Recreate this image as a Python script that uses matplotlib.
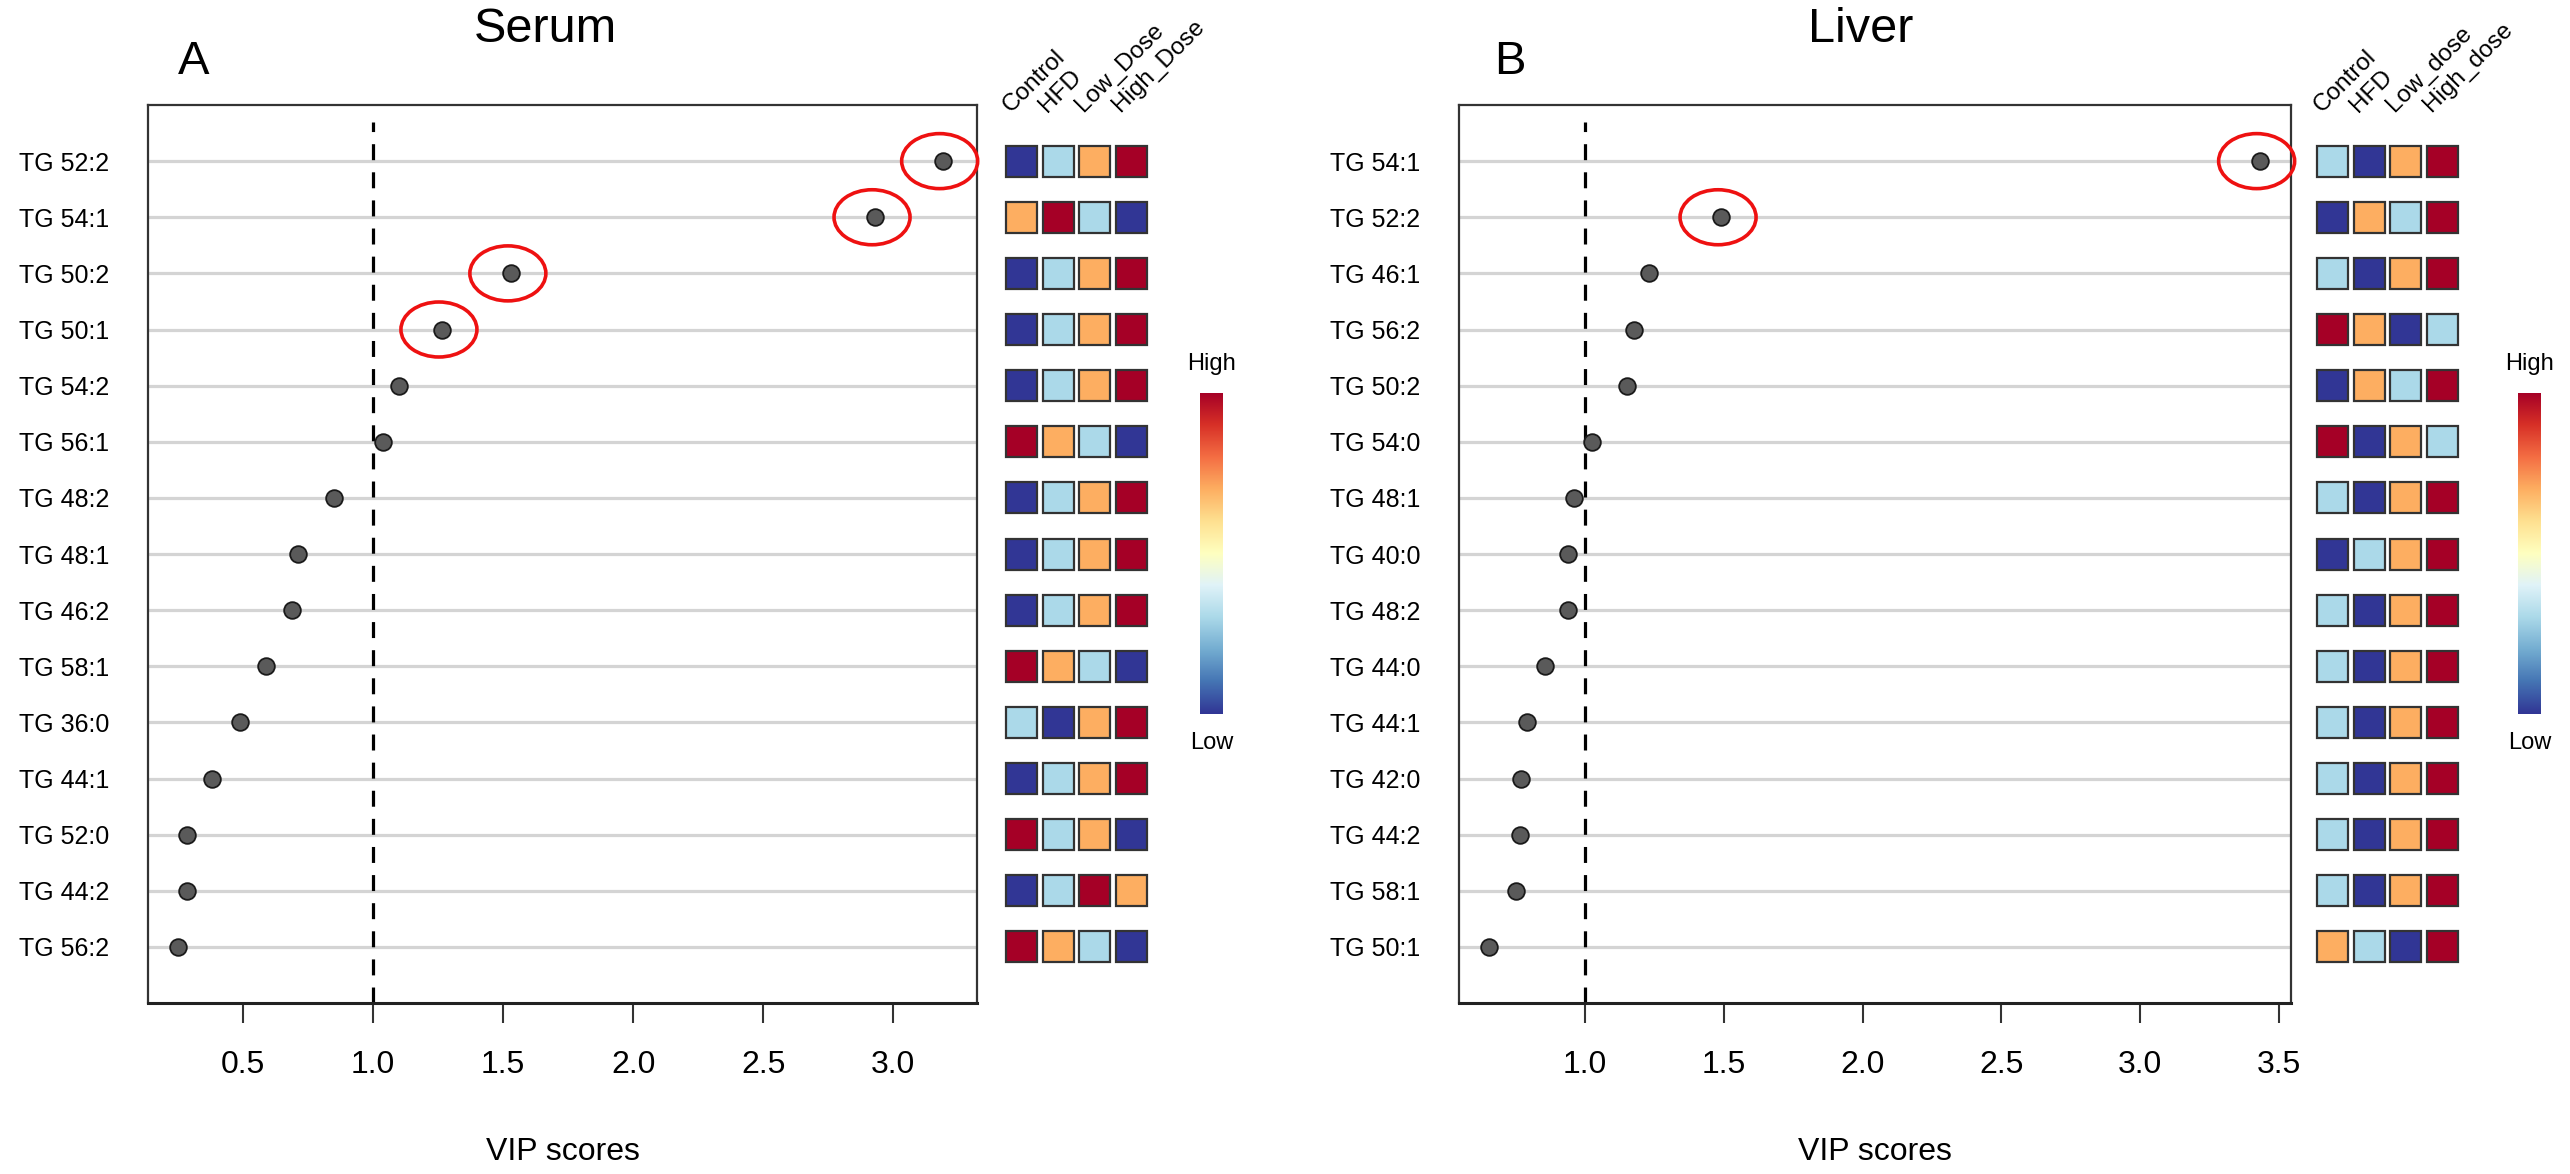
import numpy as np
import matplotlib
matplotlib.use("Agg")
import matplotlib.pyplot as plt
from matplotlib.patches import Ellipse, Rectangle
from matplotlib.colors import LinearSegmentedColormap
import matplotlib.transforms as mtransforms

plt.rcParams['font.family'] = ['Liberation Sans', 'DejaVu Sans']

# ---------------- data ----------------
serum_lipids = ["TG 52:2", "TG 54:1", "TG 50:2", "TG 50:1", "TG 54:2", "TG 56:1", "TG 48:2",
                "TG 48:1", "TG 46:2", "TG 58:1", "TG 36:0", "TG 44:1", "TG 52:0", "TG 44:2", "TG 56:2"]
serum_vip = [3.19, 2.93, 1.53, 1.265, 1.10, 1.04, 0.85, 0.71, 0.69, 0.59, 0.49, 0.38, 0.285, 0.285, 0.25]
serum_highlight = [True, True, True, True] + [False] * 11
serum_groups = ["Control", "HFD", "Low_Dose", "High_Dose"]
# relative level rank per group: 1=lowest (dark blue) ... 4=highest (dark red)
serum_rank = [[1, 2, 3, 4], [3, 4, 2, 1], [1, 2, 3, 4], [1, 2, 3, 4], [1, 2, 3, 4],
              [4, 3, 2, 1], [1, 2, 3, 4], [1, 2, 3, 4], [1, 2, 3, 4], [4, 3, 2, 1],
              [2, 1, 3, 4], [1, 2, 3, 4], [4, 2, 3, 1], [1, 2, 4, 3], [4, 3, 2, 1]]

liver_lipids = ["TG 54:1", "TG 52:2", "TG 46:1", "TG 56:2", "TG 50:2", "TG 54:0", "TG 48:1",
                "TG 40:0", "TG 48:2", "TG 44:0", "TG 44:1", "TG 42:0", "TG 44:2", "TG 58:1", "TG 50:1"]
liver_vip = [3.43, 1.49, 1.23, 1.175, 1.15, 1.025, 0.96, 0.94, 0.94, 0.855, 0.79, 0.77, 0.765, 0.75, 0.655]
liver_highlight = [True, True] + [False] * 13
liver_groups = ["Control", "HFD", "Low_dose", "High_dose"]
liver_rank = [[2, 1, 3, 4], [1, 3, 2, 4], [2, 1, 3, 4], [4, 3, 1, 2], [1, 3, 2, 4],
              [4, 1, 3, 2], [2, 1, 3, 4], [1, 2, 3, 4], [2, 1, 3, 4], [2, 1, 3, 4],
              [2, 1, 3, 4], [2, 1, 3, 4], [2, 1, 3, 4], [2, 1, 3, 4], [3, 2, 1, 4]]

rank_colors = {1: "#313695", 2: "#abd9e9", 3: "#fdae61", 4: "#a50026"}
cbar_cmap = LinearSegmentedColormap.from_list(
    "rdylbu_r", ["#313695", "#4575b4", "#74add1", "#abd9e9", "#e0f3f8", "#ffffbf",
                 "#fee090", "#fdae61", "#f46d43", "#d73027", "#a50026"])

W, H = 2570, 1174
DPI = 100
fig = plt.figure(figsize=(W / DPI, H / DPI), dpi=DPI)


def px_axes(x0, x1, y0, y1):
    return fig.add_axes([x0 / W, 1 - y1 / H, (x1 - x0) / W, (y1 - y0) / H])


def panel(ax_px, xlim, ticks, lipids, vip, highlight, ranks, groups, heat_x0, cbar_x,
          title, title_x, letter, letter_x):
    x0, x1, y0, y1 = ax_px
    ax = px_axes(x0, x1, y0, y1)
    n = len(lipids)
    ypos = np.arange(n, 0, -1)
    ax.set_xlim(*xlim)
    ax.set_ylim(0, n + 1)
    for y in ypos:
        ax.axhline(y, color="#d4d4d4", lw=2.3, zorder=1)
    ax.plot([1.0, 1.0], [0, n + 0.69], ls=(0, (5.0, 3.8)), color="black", lw=2.3, zorder=2,
            clip_on=False)
    ax.plot(vip, ypos, "o", ms=12, mfc="#5a5a5a", mec="#1a1a1a", mew=1.3, zorder=4, ls="none")
    for v, y, h in zip(vip, ypos, highlight):
        if h:
            tr = fig.dpi_scale_trans + mtransforms.ScaledTranslation(v, y, ax.transData)
            ax.add_patch(Ellipse((-0.03, 0), 0.76, 0.55, transform=tr, fill=False,
                                 edgecolor="#ee1111", lw=2.6, zorder=5, clip_on=False))
    ax.set_yticks(ypos)
    ax.set_yticklabels(lipids, fontsize=18)
    ax.tick_params(axis="y", length=0, pad=28)
    ax.set_xticks(ticks)
    ax.set_xticklabels([f"{t:.1f}" for t in ticks], fontsize=23)
    ax.tick_params(axis="x", direction="out", length=14.5, width=1.5, pad=19, color="#333333")
    for s in ax.spines.values():
        s.set_color("#333333")
        s.set_linewidth(1.6)
    ax.spines["bottom"].set_linewidth(2.2)
    ax.spines["bottom"].set_color("#222222")

    # heatmap
    pitch = 36.5
    hx = px_axes(heat_x0 - 2.75, heat_x0 - 2.75 + 4 * pitch, y0, y1)
    hx.set_xlim(-0.5, 3.5)
    hx.set_ylim(0, n + 1)
    hx.axis("off")
    cw = 31 / pitch
    ch = 31 / ((y1 - y0) / (n + 1))
    for r, y in zip(ranks, ypos):
        for j, rk in enumerate(r):
            hx.add_patch(Rectangle((j - cw / 2, y - ch / 2), cw, ch, facecolor=rank_colors[rk],
                                   edgecolor="#333333", lw=1.6))
    for j, g in enumerate(groups):
        hx.text(j - 0.3, n + 0.86, g, rotation=45, rotation_mode="anchor", ha="left",
                va="baseline", fontsize=17.5, clip_on=False)

    # colorbar
    cx = px_axes(cbar_x, cbar_x + 23, 393, 714)
    grad = np.linspace(1, 0, 256).reshape(-1, 1)
    cx.imshow(grad, aspect="auto", cmap=cbar_cmap, extent=[0, 1, 0, 1])
    cx.set_axis_off()
    fig.text((cbar_x + 11.5) / W, 1 - 364 / H, "High", ha="center", va="center", fontsize=17)
    fig.text((cbar_x + 11.5) / W, 1 - 743 / H, "Low", ha="center", va="center", fontsize=17)

    fig.text(title_x / W, 1 - 30 / H, title, ha="center", va="center", fontsize=35)
    fig.text(letter_x / W, 1 - 62 / H, letter, ha="center", va="center", fontsize=34)
    fig.text(((x0 + x1) / 2) / W, 1 - 1152 / H, "VIP scores", ha="center", va="center",
             fontsize=23)
    return ax


panel((148, 977, 105, 1003), (0.135, 3.322), [0.5, 1.0, 1.5, 2.0, 2.5, 3.0],
      serum_lipids, serum_vip, serum_highlight, serum_rank, serum_groups, 1006, 1200,
      "Serum", 545, "A", 194)
panel((1459, 2291, 105, 1003), (0.546, 3.543), [1.0, 1.5, 2.0, 2.5, 3.0, 3.5],
      liver_lipids, liver_vip, liver_highlight, liver_rank, liver_groups, 2317, 2518,
      "Liver", 1861, "B", 1510)

fig.savefig("out.png", dpi=DPI, facecolor="white")
